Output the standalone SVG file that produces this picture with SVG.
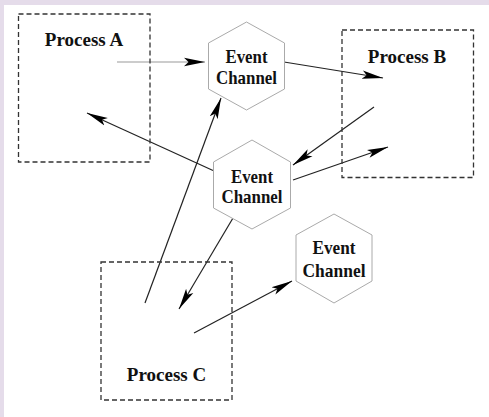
<svg xmlns="http://www.w3.org/2000/svg" width="489" height="417" viewBox="0 0 489 417">
<style>
.proc{fill:none;stroke:#333;stroke-width:1.3;stroke-dasharray:5,3}
.hex{fill:#fff;stroke:#aaa;stroke-width:1}
.lbl{font-family:"Liberation Serif","Times New Roman",serif;font-weight:bold;fill:#111;text-anchor:middle}
.pl{font-size:19px}
.el{font-size:19px}
.con{stroke:#222;stroke-width:1.2;fill:none;marker-end:url(#ah)}
</style>
<defs>
<marker id="ah" markerUnits="userSpaceOnUse" markerWidth="22" markerHeight="10" viewBox="0 0 22 10" refX="21" refY="5" orient="auto">
<path d="M0,0.8 L21,5 L0,9.2 L4.5,5 Z" fill="#000"/>
</marker>
</defs>
<rect x="0" y="0" width="489" height="417" fill="#e5dcea"/>
<rect x="4" y="5" width="485" height="412" fill="#fff"/>
<g id="connectors">
<line class="con" x1="117" y1="62" x2="205" y2="62" style="stroke:#999"/>
<line class="con" x1="284" y1="62" x2="383" y2="78"/>
<line class="con" x1="374" y1="107" x2="293" y2="165"/>
<line class="con" x1="293" y1="180" x2="388" y2="147"/>
<line class="con" x1="213" y1="170.5" x2="87" y2="113"/>
<line class="con" x1="145" y1="303" x2="221" y2="98"/>
<line class="con" x1="233" y1="218" x2="179" y2="309"/>
<line class="con" x1="194" y1="333" x2="292" y2="281"/>
</g>
<g id="processA">
<rect class="proc" x="18.5" y="14" width="131.5" height="148"/>
<text class="lbl pl" x="84" y="46">Process A</text>
</g>
<g id="processB">
<rect class="proc" x="342" y="30" width="131.5" height="147.5"/>
<text class="lbl pl" x="407" y="63">Process B</text>
</g>
<g id="processC">
<rect class="proc" x="101" y="262" width="131" height="138"/>
<text class="lbl pl" x="166.5" y="381">Process C</text>
</g>
<g id="channel1">
<polygon class="hex" points="246.5,22 284.5,43 284.5,89 246.5,110 208.5,89 208.5,43"/>
<text class="lbl el" x="246.5" y="63" textLength="42" lengthAdjust="spacingAndGlyphs">Event</text>
<text class="lbl el" x="246.5" y="84" textLength="61" lengthAdjust="spacingAndGlyphs">Channel</text>
</g>
<g id="channel2">
<polygon class="hex" points="252,140 290.5,162 290.5,208 252,229 213.5,208 213.5,162"/>
<text class="lbl el" x="252" y="183" textLength="42" lengthAdjust="spacingAndGlyphs">Event</text>
<text class="lbl el" x="252" y="203" textLength="61" lengthAdjust="spacingAndGlyphs">Channel</text>
</g>
<g id="channel3">
<polygon class="hex" points="334,214 372,235 372,281 334,303 296,281 296,235"/>
<text class="lbl el" x="334" y="254" textLength="43" lengthAdjust="spacingAndGlyphs">Event</text>
<text class="lbl el" x="334" y="277" textLength="63" lengthAdjust="spacingAndGlyphs">Channel</text>
</g>
</svg>
